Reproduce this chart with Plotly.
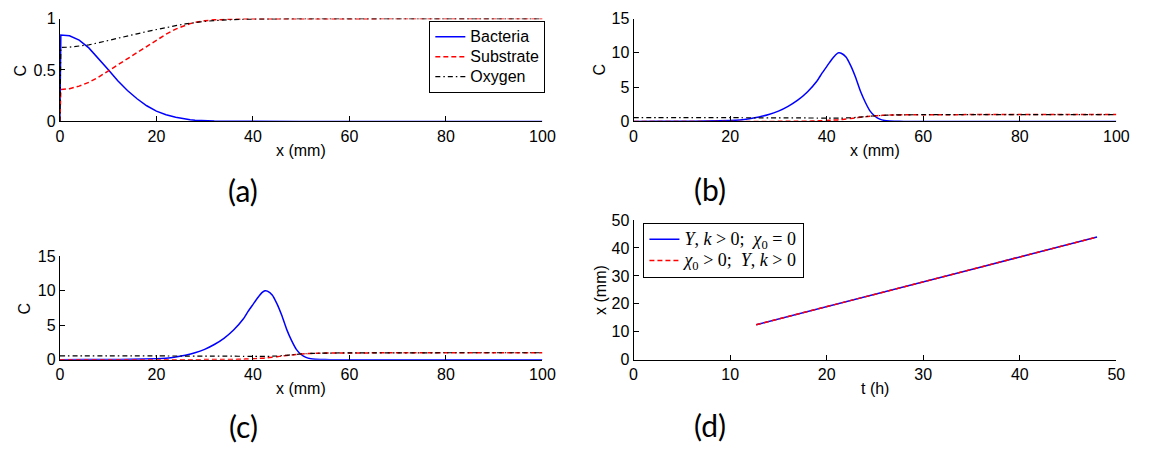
import plotly.graph_objects as go

# ---------------- data ----------------
# (a) concentration profiles near the inlet
xa = [0, 0.2, 2, 4, 6, 8, 10, 12, 14, 16, 18, 20, 22, 24, 25, 26, 27, 28, 29, 30,
      32, 34, 36, 38, 40, 45, 50, 60, 70, 80, 90, 100]
bact_a = [0, 0.84, 0.833, 0.79, 0.715, 0.615, 0.505, 0.395, 0.30, 0.22, 0.152, 0.10,
          0.065, 0.04, 0.031, 0.023, 0.017, 0.012, 0.008, 0.006, 0.003, 0.0015,
          0.0007, 0.0003, 0, 0, 0, 0, 0, 0, 0, 0]
subs_a = [0, 0.31, 0.318, 0.343, 0.38, 0.43, 0.49, 0.55, 0.61, 0.67, 0.73, 0.79, 0.848,
          0.898, 0.918, 0.936, 0.951, 0.963, 0.972, 0.979, 0.988, 0.993, 0.996, 0.998,
          0.999, 1.0, 1.0, 1.0, 1.0, 1.0, 1.0, 1.0]
oxy_a = [0, 0.72, 0.722, 0.73, 0.745, 0.765, 0.785, 0.806, 0.829, 0.852, 0.874, 0.895,
         0.914, 0.932, 0.94, 0.948, 0.955, 0.962, 0.968, 0.973, 0.981, 0.987, 0.991,
         0.994, 0.996, 0.999, 1.0, 1.0, 1.0, 1.0, 1.0, 1.0]

# (b), (c) travelling band profiles
xb = [0, 5, 10, 15, 20, 22, 24, 26, 28, 30, 32, 34, 36, 38, 39, 40, 41, 42, 42.5, 43,
      44, 45, 46, 47, 48, 49, 50, 51, 52, 53, 54, 56, 58, 60, 65, 70, 80, 90, 100]
bact_b = [0, 0.005, 0.02, 0.05, 0.13, 0.22, 0.4, 0.65, 1.0, 1.5, 2.2, 3.1, 4.3, 5.9,
          7.0, 8.0, 9.0, 9.8, 10.0, 9.95, 9.4, 8.1, 6.4, 4.4, 2.8, 1.5, 0.75, 0.33, 0.13,
          0.05, 0.02, 0.003, 0, 0, 0, 0, 0, 0, 0]
subs_b = [0, 0, 0, 0, 0, 0, 0, 0, 0, 0.005, 0.01, 0.02, 0.03, 0.07, 0.1, 0.13, 0.17,
          0.21, 0.23, 0.26, 0.35, 0.43, 0.52, 0.6, 0.68, 0.75, 0.82, 0.86, 0.9, 0.92,
          0.94, 0.96, 0.97, 0.98, 0.985, 0.99, 1.0, 1.0, 1.0]
oxy_b = [0.55, 0.55, 0.55, 0.545, 0.54, 0.535, 0.53, 0.525, 0.52, 0.52, 0.51, 0.505,
         0.5, 0.49, 0.485, 0.48, 0.48, 0.48, 0.48, 0.485, 0.5, 0.53, 0.58, 0.64, 0.7,
         0.76, 0.82, 0.86, 0.9, 0.92, 0.94, 0.96, 0.97, 0.98, 0.985, 0.99, 1.0, 1.0, 1.0]

# (d) front position versus time
t_d = [12.7, 16, 20, 24, 28, 32, 36, 40, 44, 48]
front_nochemo = [12.5, 15.4, 19.0, 22.6, 26.1, 29.7, 33.2, 36.8, 40.4, 43.9]
front_chemo = [12.5, 15.4, 19.0, 22.6, 26.1, 29.7, 33.2, 36.8, 40.4, 43.9]

series_names = ["Bacteria", "Substrate", "Oxygen"]
legend_d = ["<i>Y</i>, <i>k</i> &gt; 0;  <i>χ</i><sub>0</sub> = 0",
            "<i>χ</i><sub>0</sub> &gt; 0;  <i>Y</i>, <i>k</i> &gt; 0"]
panel_tags = ["(a)", "(b)", "(c)", "(d)"]

# ---------------- styling ----------------
W, H = 1152, 455
SANS = "Liberation Sans, Arial, sans-serif"
SERIF = "Liberation Serif, Times New Roman, serif"
BLUE, RED, BLACK = "#0000ff", "#ff0000", "#000000"
styles = [dict(color=BLUE, width=1.5),
          dict(color=RED, width=1.5, dash="5px,3px"),
          dict(color=BLACK, width=1.2, dash="5px,3px,1.5px,3px")]


def px_x(p):
    return p / W


def px_y(p):
    return 1 - p / H


def sized(label, size):
    # larger glyphs inside a legend whose row pitch follows its (smaller) base font
    return "<span style='font-size:%dpx'>%s</span>" % (size, label)


fig = go.Figure()

# panel (a)
for name, ys, st in zip(series_names, [bact_a, subs_a, oxy_a], styles):
    fig.add_trace(go.Scatter(x=xa, y=ys, mode="lines", name=sized(name, 16), line=st,
                             xaxis="x", yaxis="y", legend="legend"))
# panels (b) and (c)
for ax in ["2", "3"]:
    for name, ys, st in zip(series_names, [bact_b, subs_b, oxy_b], styles):
        fig.add_trace(go.Scatter(x=xb, y=ys, mode="lines", name=name,
                                 line=dict(st, shape="spline", smoothing=0.6),
                                 xaxis="x" + ax, yaxis="y" + ax, showlegend=False))
# panel (d)
fig.add_trace(go.Scatter(x=t_d, y=front_nochemo, mode="lines",
                         name=sized(legend_d[0], 18),
                         line=dict(color=BLUE, width=1.5),
                         xaxis="x4", yaxis="y4", legend="legend2"))
fig.add_trace(go.Scatter(x=t_d, y=front_chemo, mode="lines",
                         name=sized(legend_d[1], 18),
                         line=dict(color=RED, width=1.5, dash="5px,3px"),
                         xaxis="x4", yaxis="y4", legend="legend2"))

# axis geometry in pixels: (left, right, top, bottom)
boxes = {
    "1": (56.7, 546.5, 11.0, 117.8),
    "2": (639.0, 1129.0, 11.0, 117.8),
    "3": (56.7, 546.5, 258.0, 365.3),
    "4": (639.0, 1129.0, 220.3, 365.3),
}
xranges = {"1": [0, 100], "2": [0, 100], "3": [0, 100], "4": [0, 50]}
yranges = {"1": [0, 1], "2": [0, 15], "3": [0, 15], "4": [0, 50]}
xticks = {"1": [0, 20, 40, 60, 80, 100], "2": [0, 20, 40, 60, 80, 100],
          "3": [0, 20, 40, 60, 80, 100], "4": [0, 10, 20, 30, 40, 50]}
yticks = {"1": [0, 0.5, 1], "2": [0, 5, 10, 15], "3": [0, 5, 10, 15],
          "4": [0, 10, 20, 30, 40, 50]}

common = dict(showline=True, linecolor="black", linewidth=1, ticks="inside",
              ticklen=5, tickwidth=1, tickcolor="black", showgrid=False,
              zeroline=False, mirror=False, fixedrange=True,
              tickfont=dict(family=SANS, size=16, color="black"))

layout_axes = {}
for k, (l, r, t, b) in boxes.items():
    xn = "xaxis" if k == "1" else "xaxis" + k
    yn = "yaxis" if k == "1" else "yaxis" + k
    layout_axes[xn] = dict(common, domain=[px_x(l), px_x(r)], range=xranges[k],
                           tickvals=xticks[k], anchor="y" if k == "1" else "y" + k)
    layout_axes[yn] = dict(common, domain=[px_y(b), px_y(t)], range=yranges[k],
                           tickvals=yticks[k], anchor="x" if k == "1" else "x" + k)

fig.update_layout(**layout_axes)

# axis titles and panel tags
ann = []
ytitles = {"1": ("C", 39), "2": ("C", 34.5), "3": ("C", 36), "4": ("x (mm)", 33)}
xtitles = {"1": "x (mm)", "2": "x (mm)", "3": "x (mm)", "4": "t (h)"}
for k, (l, r, t, b) in boxes.items():
    txt, off = ytitles[k]
    ann.append(dict(text=txt, x=px_x(l - off), y=px_y((t + b) / 2), xref="paper",
                    yref="paper", showarrow=False, textangle=-90,
                    xanchor="center", yanchor="middle",
                    font=dict(family=SANS, size=16, color="black")))
    ann.append(dict(text=xtitles[k], x=px_x((l + r) / 2), y=px_y(b + 30),
                    xref="paper", yref="paper", showarrow=False,
                    xanchor="center", yanchor="middle",
                    font=dict(family=SANS, size=16, color="black")))

tag_pos = [(243, 189), (717, 188), (243, 434), (717, 433.5)]
for tag, (tx, ty) in zip(panel_tags, tag_pos):
    ann.append(dict(text=tag, x=px_x(tx), y=px_y(ty), xref="paper", yref="paper",
                    showarrow=False, xanchor="center", yanchor="middle",
                    font=dict(family="Lato, Open Sans, sans-serif", size=30,
                              color="black")))

fig.update_layout(
    width=W, height=H,
    margin=dict(l=0, r=0, t=0, b=0),
    paper_bgcolor="white", plot_bgcolor="white",
    annotations=ann,
    legend=dict(x=px_x(431.7), y=px_y(13.3), xanchor="left", yanchor="top",
                bordercolor="black", borderwidth=1, bgcolor="white",
                font=dict(family=SANS, size=13, color="black"),
                tracegroupgap=0, itemwidth=30),
    legend2=dict(x=px_x(649), y=px_y(223), xanchor="left", yanchor="top",
                 bordercolor="black", borderwidth=1, bgcolor="white",
                 font=dict(family=SERIF, size=14, color="black"),
                 tracegroupgap=0, itemwidth=30),
    showlegend=True,
)

fig.write_html("out.html")
